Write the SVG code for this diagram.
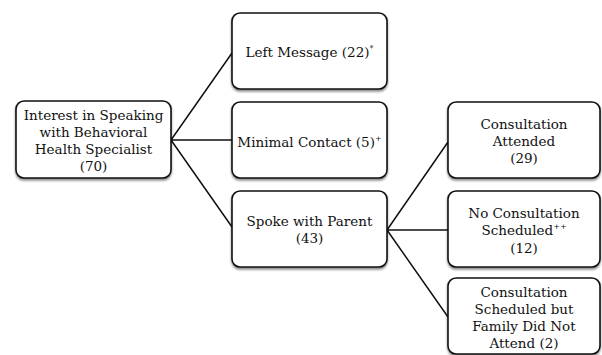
<svg xmlns="http://www.w3.org/2000/svg" width="602" height="355" viewBox="0 0 602 355">
<style>
.box{fill:#fff;stroke:#111;stroke-width:1.6;filter:url(#sh)}
.t{font-family:"DejaVu Serif","Liberation Serif",serif;font-size:13.5px;fill:#111;text-anchor:middle}
.sup{font-size:8px}
.c{stroke:#111;stroke-width:1.5;fill:none}
</style>
<defs>
<filter id="sh" x="-10%" y="-10%" width="120%" height="130%">
<feDropShadow dx="0" dy="2" stdDeviation="1.2" flood-color="#000" flood-opacity="0.45"/>
</filter>
</defs>
<rect width="602" height="355" fill="#fff"/>
<g id="connectors">
<path class="c" d="M171 140 L232 53 M171 140 L232 140 M171 140 L232 227"/>
<path class="c" d="M387 230 L448 142 M387 230 L448 230 M387 230 L448 317"/>
</g>
<g id="root">
<rect class="box" x="16" y="101" width="155" height="77" rx="8"/>
<text class="t" x="93.5" y="120">Interest in Speaking</text>
<text class="t" x="93.5" y="137">with Behavioral</text>
<text class="t" x="93.5" y="154">Health Specialist</text>
<text class="t" x="93.5" y="171">(70)</text>
</g>
<g id="left-message">
<rect class="box" x="232" y="13" width="155" height="76" rx="8"/>
<text class="t" x="309.5" y="57">Left Message (22)<tspan class="sup" dy="-6">*</tspan></text>
</g>
<g id="minimal-contact">
<rect class="box" x="232" y="102" width="155" height="76" rx="8"/>
<text class="t" x="309.5" y="147">Minimal Contact (5)<tspan class="sup" dy="-6">+</tspan></text>
</g>
<g id="spoke-with-parent">
<rect class="box" x="232" y="191" width="155" height="76" rx="8"/>
<text class="t" x="309.5" y="226">Spoke with Parent</text>
<text class="t" x="309.5" y="243">(43)</text>
</g>
<g id="consultation-attended">
<rect class="box" x="448" y="102" width="152" height="76" rx="8"/>
<text class="t" x="524" y="129">Consultation</text>
<text class="t" x="524" y="146">Attended</text>
<text class="t" x="524" y="163">(29)</text>
</g>
<g id="no-consultation">
<rect class="box" x="448" y="191" width="152" height="76" rx="8"/>
<text class="t" x="524" y="218">No Consultation</text>
<text class="t" x="524" y="235">Scheduled<tspan class="sup" dy="-6">++</tspan></text>
<text class="t" x="524" y="253">(12)</text>
</g>
<g id="did-not-attend">
<rect class="box" x="448" y="278" width="152" height="76" rx="8"/>
<text class="t" x="524" y="297">Consultation</text>
<text class="t" x="524" y="314">Scheduled but</text>
<text class="t" x="524" y="331">Family Did Not</text>
<text class="t" x="524" y="348">Attend (2)</text>
</g>
</svg>
